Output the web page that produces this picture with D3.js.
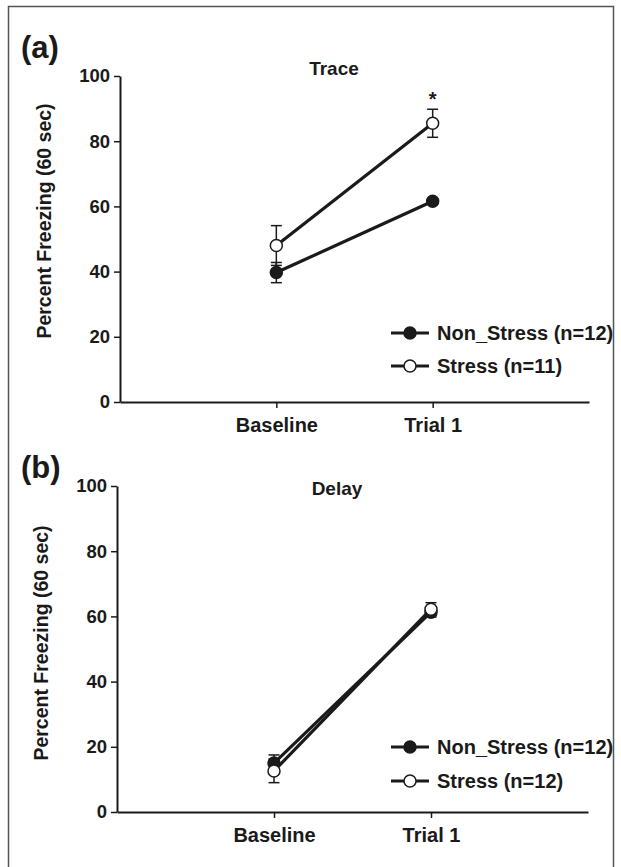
<!DOCTYPE html>
<html>
<head>
<meta charset="utf-8">
<script src="https://cdn.jsdelivr.net/npm/d3@7"></script>
<style>
  html, body { margin: 0; padding: 0; background: #fff; }
  svg { display: block; }
  text { font-family: "Liberation Sans", Arial, Helvetica, sans-serif; font-weight: bold; fill: #1a1a1a; }
</style>
</head>
<body>
<svg id="chart" width="621" height="867"></svg>
<script>
// ---- data ----
const categories = ["Baseline", "Trial 1"];
const yTicks = [0, 20, 40, 60, 80, 100];

const traceNonStress = [39.7, 61.6];
const traceNonStressErr = [3.1, 0.8];
const traceStress = [48.0, 85.5];
const traceStressErr = [6.1, 4.3];

const delayNonStress = [15.0, 61.3];
const delayNonStressErr = [2.5, 1.5];
const delayStress = [12.6, 62.2];
const delayStressErr = [3.6, 2.0];

const panelLabels = ["(a)", "(b)"];
const panelTitles = ["Trace", "Delay"];
const legendTrace = ["Non_Stress (n=12)", "Stress (n=11)"];
const legendDelay = ["Non_Stress (n=12)", "Stress (n=12)"];
const sigMarks = [{ cat: 1, text: "*" }];

// ---- drawing ----
const svg = d3.select("#chart");
const ink = "#1a1a1a";
const fontFam = '"Liberation Sans", Arial, sans-serif';

// outer frame
svg.append("rect").attr("x", 8.5).attr("y", 6.5).attr("width", 605).attr("height", 866)
  .attr("fill", "none").attr("stroke", "#555").attr("stroke-width", 1.5);

function drawPanel(cfg) {
  const g = svg.append("g");
  const x = d3.scaleLinear().domain([0, 3]).range([cfg.left, cfg.right]);
  const y = d3.scaleLinear().domain([0, 100]).range([cfg.bottom, cfg.top]);

  // panel label
  g.append("text").attr("x", cfg.labelX).attr("y", cfg.labelY)
    .attr("font-size", 31).text(cfg.label);
  // title
  g.append("text").attr("x", cfg.titleX).attr("y", cfg.titleY)
    .attr("text-anchor", "middle").attr("font-size", 19).text(cfg.title);

  // y axis
  const ya = g.append("g").attr("transform", `translate(${cfg.left},0)`)
    .call(d3.axisLeft(y).tickValues(yTicks).tickSize(6).tickSizeOuter(0).tickPadding(4));
  ya.select(".domain").attr("stroke", ink).attr("stroke-width", 2);
  ya.selectAll(".tick line").attr("stroke", ink).attr("stroke-width", 1.5);
  ya.selectAll(".tick text").attr("font-size", 18.5).attr("fill", ink)
    .style("font-family", fontFam).style("font-weight", "bold");

  // x axis
  const xa = g.append("g").attr("transform", `translate(0,${cfg.bottom})`)
    .call(d3.axisBottom(x).tickValues([1, 2]).tickFormat(d => categories[d - 1])
      .tickSize(6).tickSizeOuter(0).tickPadding(10));
  xa.select(".domain").attr("stroke", ink).attr("stroke-width", 2);
  xa.selectAll(".tick line").attr("stroke", ink).attr("stroke-width", 1.5);
  xa.selectAll(".tick text").attr("font-size", 20).attr("fill", ink)
    .style("font-family", fontFam).style("font-weight", "bold");

  // y axis title
  g.append("text")
    .attr("transform", `translate(${cfg.yTitleX},${cfg.yTitleY}) rotate(-90)`)
    .attr("text-anchor", "middle").attr("font-size", 19.5).text("Percent Freezing (60 sec)");

  const line = d3.line().x((d, i) => x(i + 1)).y(d => y(d));

  cfg.series.forEach(s => {
    g.append("path").datum(s.values).attr("d", line)
      .attr("fill", "none").attr("stroke", ink).attr("stroke-width", 3.2);
  });
  cfg.series.forEach(s => {
    s.values.forEach((v, i) => {
      const cx = x(i + 1), e = s.err[i];
      const eb = g.append("g").attr("stroke", ink).attr("stroke-width", 1.5);
      eb.append("line").attr("x1", cx).attr("x2", cx).attr("y1", y(v - e)).attr("y2", y(v + e));
      eb.append("line").attr("x1", cx - 5.5).attr("x2", cx + 5.5).attr("y1", y(v - e)).attr("y2", y(v - e));
      eb.append("line").attr("x1", cx - 5.5).attr("x2", cx + 5.5).attr("y1", y(v + e)).attr("y2", y(v + e));
    });
  });
  cfg.series.forEach(s => {
    g.selectAll(null).data(s.values).enter().append("circle")
      .attr("cx", (d, i) => x(i + 1)).attr("cy", d => y(d)).attr("r", 6)
      .attr("fill", s.filled ? ink : "#fff").attr("stroke", ink).attr("stroke-width", 1.5);
  });

  (cfg.sig || []).forEach(m => {
    const s = cfg.series[1];
    g.append("text").attr("x", x(m.cat + 1)).attr("y", y(s.values[m.cat] + s.err[m.cat]) - 3)
      .attr("text-anchor", "middle").attr("font-size", 20).text(m.text);
  });

  // legend
  cfg.series.forEach((s, k) => {
    const ly = cfg.legendY[k];
    const lg = g.append("g");
    lg.append("line").attr("x1", cfg.legendX).attr("x2", cfg.legendX + 38)
      .attr("y1", ly).attr("y2", ly).attr("stroke", ink).attr("stroke-width", 3.2);
    lg.append("circle").attr("cx", cfg.legendX + 19).attr("cy", ly).attr("r", 6)
      .attr("fill", s.filled ? ink : "#fff").attr("stroke", ink).attr("stroke-width", 1.5);
    lg.append("text").attr("x", cfg.legendX + 46).attr("y", ly).attr("dy", "0.36em")
      .attr("font-size", 20).text(s.label);
  });
}

drawPanel({
  left: 120, right: 589, top: 76, bottom: 402,
  label: panelLabels[0], labelX: 21, labelY: 58,
  title: panelTitles[0], titleX: 334, titleY: 75, yTitleX: 51, yTitleY: 221,
  legendX: 391, legendY: [333, 366],
  series: [
    { values: traceNonStress, err: traceNonStressErr, filled: true, label: legendTrace[0] },
    { values: traceStress, err: traceStressErr, filled: false, label: legendTrace[1] }
  ],
  sig: sigMarks
});

drawPanel({
  left: 117, right: 588, top: 486, bottom: 812,
  label: panelLabels[1], labelX: 21, labelY: 478,
  title: panelTitles[1], titleX: 337, titleY: 495, yTitleX: 48, yTitleY: 643,
  legendX: 391, legendY: [747, 781],
  series: [
    { values: delayNonStress, err: delayNonStressErr, filled: true, label: legendDelay[0] },
    { values: delayStress, err: delayStressErr, filled: false, label: legendDelay[1] }
  ]
});
</script>
</body>
</html>
